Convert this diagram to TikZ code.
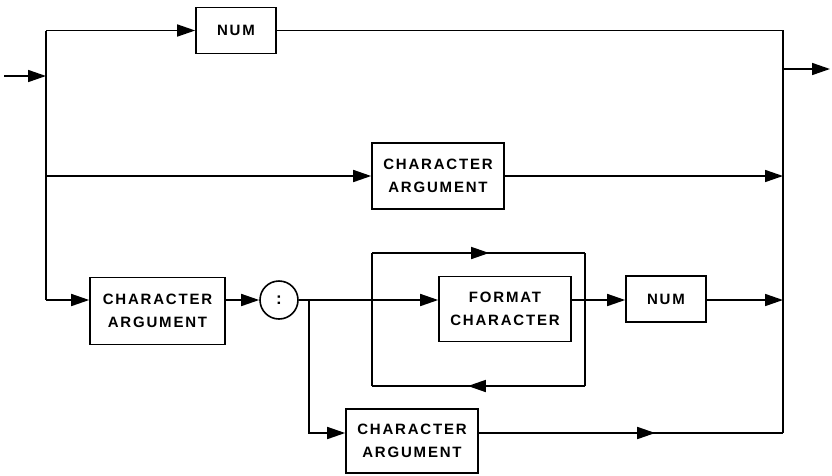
\documentclass[tikz,border=0pt]{standalone}
\usepackage{fontspec}
\setmainfont{Liberation Sans}
\newfontfamily\syntaxfont[LetterSpace=12]{Liberation Sans}
\usepackage{tikz}
\usetikzlibrary{arrows.meta,positioning,calc,decorations.markings}

\begin{document}
\begin{tikzpicture}[
    x=1pt,y=-1pt,
    box/.style={draw,line width=1.6pt,minimum width=132pt,minimum height=66pt,
                inner sep=0pt,align=center,font=\syntaxfont\bfseries\fontsize{15}{23}\selectfont},
    numbox/.style={box,minimum width=80pt,minimum height=46pt},
    sep/.style={draw,circle,line width=1.6pt,minimum size=38pt,inner sep=0pt,
                font=\bfseries\fontsize{17}{19}\selectfont},
    line/.style={line width=1.6pt},
    arr/.style={line,-{Triangle[length=18pt,width=12pt]}},
    midarr/.style={line,postaction={decorate},
                   decoration={markings,mark=at position #1 with
                   {\arrow{Triangle[length=18pt,width=12pt]}}}}
  ]
    \useasboundingbox (0,0) rectangle (832,475);

    \node[numbox] (numtop) at (236,30.5) {NUM};
    \node[box] (argmid) at (438,176) {CHARACTER\\ARGUMENT};
    \node[box,minimum width=135pt,minimum height=67pt] (argleft) at (157.5,311) {CHARACTER\\ARGUMENT};
    \node[sep] (colon) at (279,300) {:};
    \node[box,minimum height=65pt] (fmt) at (505,309) {FORMAT\\CHARACTER};
    \node[numbox] (numlow) at (666,299) {NUM};
    \node[box,minimum height=64pt] (argbot) at (412,441) {CHARACTER\\ARGUMENT};

    \coordinate (start) at (4,76);
    \coordinate (entry) at (46,76);
    \coordinate (ltop) at (46,30.5);
    \coordinate (lmid) at (46,176);
    \coordinate (lbot) at (46,300);
    \coordinate (rtop) at (783,30.5);
    \coordinate (rexit) at (783,69);
    \coordinate (finish) at (830,69);
    \coordinate (rbot) at (783,433);
    \coordinate (split) at (309,300);
    \coordinate (loopnw) at (372,253);
    \coordinate (loopne) at (585,253);
    \coordinate (loopse) at (585,386);
    \coordinate (loopsw) at (372,386);

    % entry and exit
    \draw[arr] (start) -- (entry);
    \draw[arr] (rexit) -- (finish);

    % left and right spines
    \draw[line] (ltop) -- (lbot);
    \draw[line] (numtop) -- (rtop) -- (rbot);

    \draw[arr] (ltop) -- (numtop);
    \draw[arr] (lmid) -- (argmid);
    \draw[arr] (argmid) -- (argmid -| rtop);
    \draw[arr] (lbot) -- (argleft.west |- lbot);
    \draw[arr] (argleft.east |- colon) -- (colon);

    \draw[arr] (colon) -- (fmt.west |- colon);
    \draw[arr] (fmt.east |- colon) -- (numlow.west |- colon);
    \draw[arr] (numlow.east |- colon) -- (colon -| rtop);

    % repeat loop
    \draw[line] (loopsw) -- (loopnw);
    \draw[midarr=0.55] (loopnw) -- (loopne);
    \draw[line] (loopne) -- (loopse);
    \draw[midarr=0.55] (loopse) -- (loopsw);

    \draw[arr] (split) |- (argbot.west |- rbot);
    \draw[midarr=0.58] (argbot.east |- rbot) -- (rbot);
  \end{tikzpicture}
\end{document}
